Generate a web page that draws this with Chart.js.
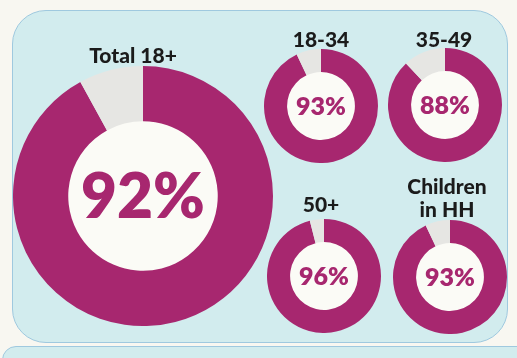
<!DOCTYPE html>
<html>
<head>
<meta charset="utf-8">
<script src="https://cdn.jsdelivr.net/npm/chart.js@4.4.1/dist/chart.umd.min.js"></script>
<style>
  body {
    margin: 0;
    width: 517px;
    height: 358px;
    background: #f8f7f1;
    overflow: hidden;
    position: relative;
    font-family: Lato, "Open Sans", sans-serif;
  }
  .panel {
    position: absolute;
    left: 12px;
    top: 10px;
    width: 494px;
    height: 331px;
    background: #d2ecee;
    border: 1px solid #9fc9df;
    border-radius: 34px;
  }
  .panel2 {
    position: absolute;
    left: 2px;
    top: 346px;
    width: 540px;
    height: 60px;
    background: #d2ecee;
    border: 1px solid #9fc9df;
    border-radius: 14px;
  }
  canvas {
    position: absolute;
  }
  .title {
    position: absolute;
    font-weight: 900;
    color: #1b1b1b;
    text-align: center;
    line-height: 23px;
    transform: translateX(-50%);
    white-space: nowrap;
  }
</style>
</head>
<body>
<div class="panel"></div>
<div class="panel2"></div>

<canvas id="c0" width="260" height="260" style="left:13px;top:66px"></canvas>
<canvas id="c1" width="114" height="114" style="left:264px;top:49px"></canvas>
<canvas id="c2" width="114" height="114" style="left:388px;top:48px"></canvas>
<canvas id="c3" width="114" height="114" style="left:267px;top:219px"></canvas>
<canvas id="c4" width="114" height="114" style="left:393px;top:220px"></canvas>

<div class="title" style="left:133px;top:43px;font-size:21px">Total 18+</div>
<div class="title" style="left:321px;top:27px;font-size:21px">18-34</div>
<div class="title" style="left:444px;top:27px;font-size:21px">35-49</div>
<div class="title" style="left:321px;top:192px;font-size:21px">50+</div>
<div class="title" style="left:447px;top:174px;font-size:21px">Children<br>in HH</div>

<script>
const groups = ["Total 18+", "18-34", "35-49", "50+", "Children in HH"];
const reach = [92, 93, 88, 96, 93];
const cutouts = ["57.5%", "59.5%", "59.5%", "59.5%", "59.5%"];
const labelSizes = [62, 25, 25, 25, 25];

const magenta = "#a7276f";
const grey = "#e6e6e3";

// white hole plus the percentage written in it
const centerLabel = {
  id: "centerLabel",
  beforeDatasetsDraw(chart) {
    const meta = chart.getDatasetMeta(0);
    const arc = meta.data[0];
    const ctx = chart.ctx;
    ctx.save();
    ctx.fillStyle = "#fbfbf6";
    ctx.beginPath();
    ctx.arc(arc.x, arc.y, arc.innerRadius + 1, 0, Math.PI * 2);
    ctx.fill();
    ctx.restore();
  },
  afterDatasetsDraw(chart, args, opts) {
    const arc = chart.getDatasetMeta(0).data[0];
    const ctx = chart.ctx;
    ctx.save();
    ctx.fillStyle = magenta;
    ctx.font = "800 " + opts.size + "px Lato";
    ctx.textAlign = "center";
    ctx.textBaseline = "middle";
    ctx.fillText(chart.data.datasets[0].data[0] + "%", arc.x, arc.y + opts.size * 0.04);
    ctx.restore();
  }
};

for (let i = 0; i < groups.length; i++) {
  new Chart(document.getElementById("c" + i), {
    type: "doughnut",
    data: {
      labels: [groups[i], "other"],
      datasets: [{
        data: [reach[i], 100 - reach[i]],
        backgroundColor: [magenta, grey],
        borderWidth: 0,
        hoverOffset: 0
      }]
    },
    options: {
      responsive: false,
      animation: false,
      events: [],
      cutout: cutouts[i],
      plugins: {
        legend: { display: false },
        tooltip: { enabled: false },
        centerLabel: { size: labelSizes[i] }
      }
    },
    plugins: [centerLabel]
  });
}
</script>
</body>
</html>
